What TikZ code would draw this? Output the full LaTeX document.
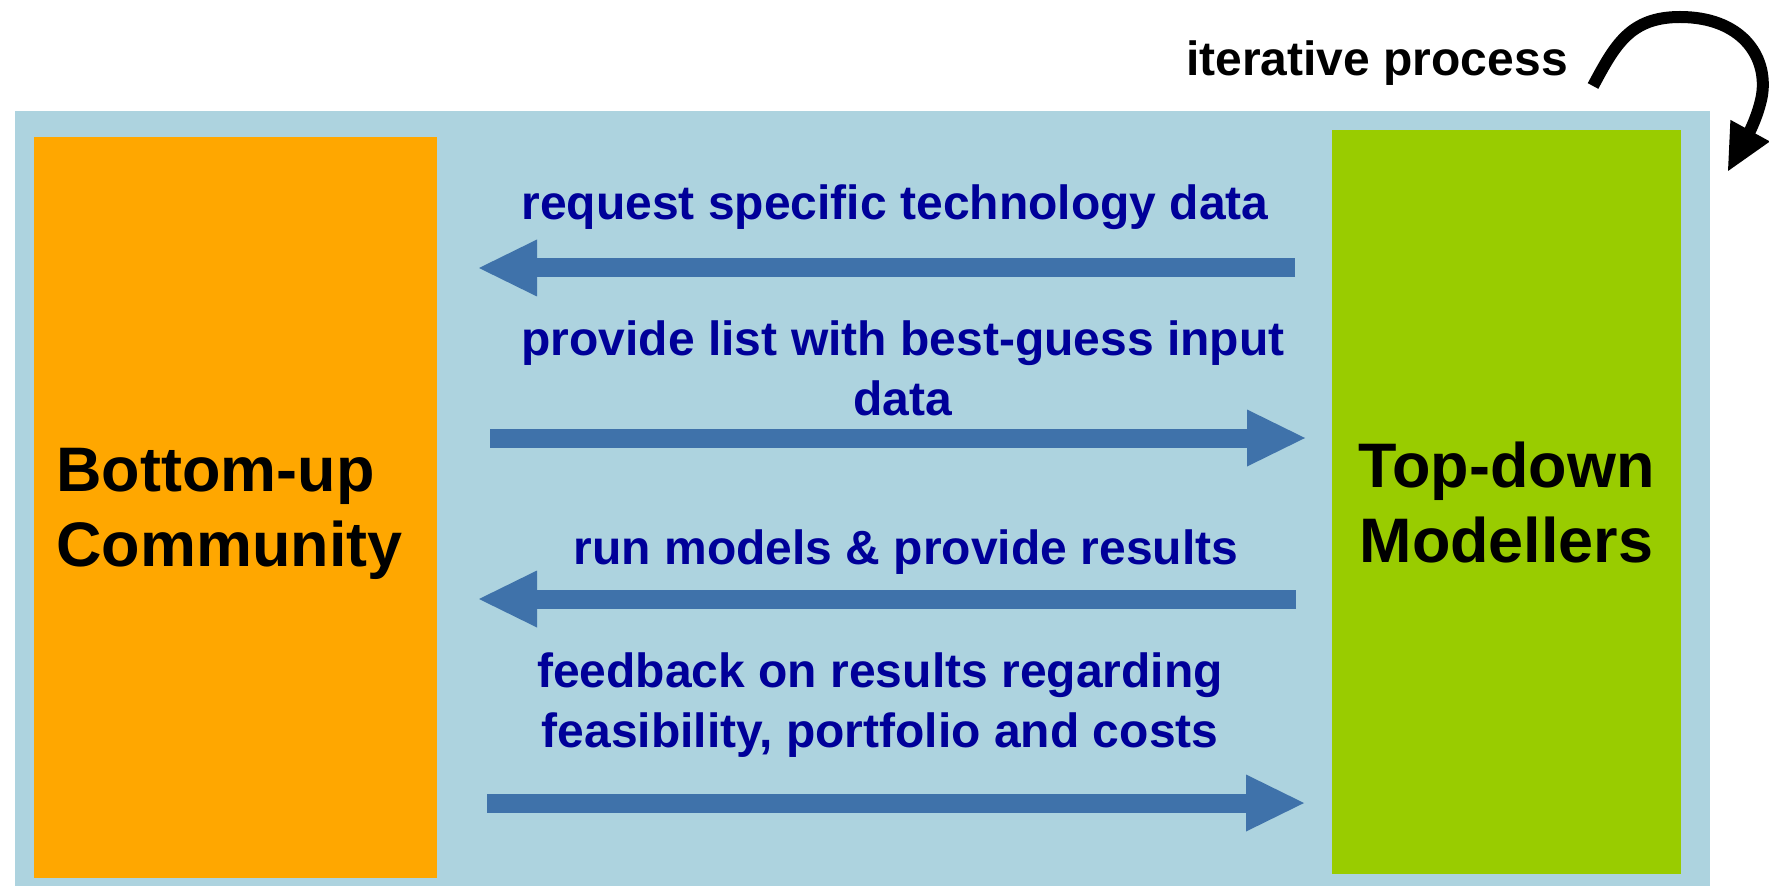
\documentclass[tikz,border=0pt]{standalone}
\usepackage{fontspec}
\setmainfont{Liberation Sans}
\usetikzlibrary{arrows.meta}
\definecolor{bgblue}{RGB}{173,211,223}
\definecolor{buorange}{RGB}{255,167,0}
\definecolor{tdgreen}{RGB}{153,204,0}
\definecolor{arrowblue}{RGB}{63,114,170}
\definecolor{navytext}{RGB}{0,0,153}
\begin{document}
\begin{tikzpicture}[x=0.1mm,y=-0.1mm,
  box/.style={rectangle, inner sep=0pt, draw=none, text=black, text depth=0pt,
    font=\bfseries\fontsize{17.9}{21.2}\selectfont},
  lbl/.style={font=\bfseries\fontsize{13.66}{16.8}\selectfont, text=navytext,
    align=center, inner sep=0pt, anchor=base},
  barrow/.style={draw=arrowblue, line width=1.9mm,
    -{Triangle[length=5.8mm,width=5.7mm,line width=0pt]}},
  iterarrow/.style={draw=black, line width=1.2mm,
    -{Triangle[length=4.6mm,width=4.5mm,line width=0pt]}}]
\useasboundingbox (0,0) rectangle (1769,886);
% background panel
\node[rectangle, fill=bgblue, inner sep=0pt, minimum width=169.5mm, minimum height=77.5mm] (panel) at (862.5,498.5) {};
% boxes
\node[box, fill=buorange, minimum width=40.3mm, minimum height=74.1mm, align=left] (bu) at (235.5,507.5) {Bottom-up\\Community\hspace*{1.2mm}};
\node[box, fill=tdgreen, minimum width=34.9mm, minimum height=74.4mm, align=center] (td) at (1506.5,502) {Top-down\\Modellers};
% arrow end points
\coordinate (a1s) at (1295,268);
\coordinate (a1e) at (479,268);
\coordinate (a2s) at (490,438);
\coordinate (a2e) at (1305,438);
\coordinate (a3s) at (1296,599);
\coordinate (a3e) at (479,599);
\coordinate (a4s) at (487,803);
\coordinate (a4e) at (1304,803);
\draw[barrow] (a1s) -- (a1e);
\draw[barrow] (a2s) -- (a2e);
\draw[barrow] (a3s) -- (a3e);
\draw[barrow] (a4s) -- (a4e);
% labels (base = baseline of last line)
\node[lbl] (l1) at (895,220) {request specific technology data};
\node[lbl] (l2) at (903,415) {provide list with best-guess input\\data};
\node[lbl] (l3) at (906,564) {run models \& provide results};
\node[lbl] (l4) at (880,747) {feedback on results regarding\\feasibility, portfolio and costs};
% iterative process
\node[font=\bfseries\fontsize{13.66}{16.5}\selectfont, text=black, inner sep=0pt, anchor=base] (iter) at (1377,76) {iterative process};
\coordinate (cs) at (1593,86);
\coordinate (ce) at (1728,171);
\draw[iterarrow] (cs) .. controls (1615,45) and (1630,17) .. (1680,17)
  .. controls (1740,17) and (1768,55) .. (1762,95)
  .. controls (1758,118) and (1745,140) .. (ce);
\end{tikzpicture}
\end{document}
